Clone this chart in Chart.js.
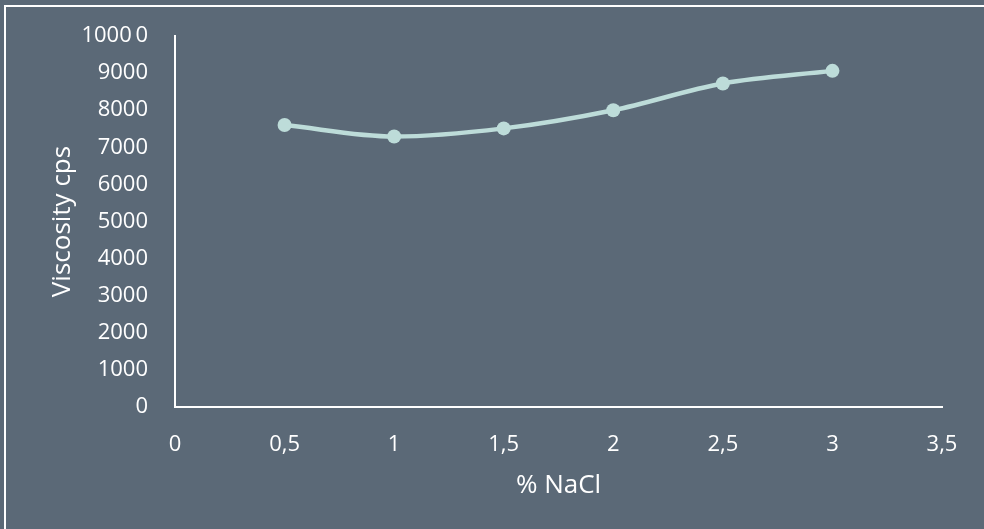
<!DOCTYPE html>
<html>
<head>
<meta charset="utf-8">
<script src="https://cdn.jsdelivr.net/npm/chart.js@4.4.1/dist/chart.umd.min.js"></script>
<style>
  html, body { margin: 0; padding: 0; background: #5b6977; }
  #wrap { position: relative; width: 984px; height: 529px; }
  canvas { display: block; }
</style>
</head>
<body>
<div id="wrap"><canvas id="c" width="984" height="529"></canvas></div>
<script>
const nacl = [0.5, 1, 1.5, 2, 2.5, 3];
const viscosity = [7600, 7290, 7510, 8000, 8720, 9060];
const xTicks = [0, 0.5, 1, 1.5, 2, 2.5, 3, 3.5];
const yTicks = [0, 1000, 2000, 3000, 4000, 5000, 6000, 7000, 8000, 9000, 10000];
const yTickLabels = ['0', '1000', '2000', '3000', '4000', '5000', '6000', '7000', '8000', '9000', '1000\u20090'];
const xTitle = '% NaCl';
const yTitle = 'Viscosity cps';

const BG = '#5b6977';
const LINE = '#bddcd9';
const TXT = '#ffffff';
const FONT = "'Open Sans', sans-serif";

const framePlugin = {
  id: 'frame',
  beforeDraw(chart) {
    const ctx = chart.ctx;
    ctx.save();
    ctx.fillStyle = BG;
    ctx.fillRect(0, 0, chart.width, chart.height);
    ctx.strokeStyle = '#ffffff';
    ctx.lineWidth = 2;
    ctx.strokeRect(5, 6, chart.width + 20, chart.height + 20);
    ctx.restore();
  }
};

new Chart(document.getElementById('c'), {
  type: 'line',
  data: {
    datasets: [{
      data: nacl.map((x, i) => ({ x: x, y: viscosity[i] })),
      borderColor: LINE,
      backgroundColor: LINE,
      borderWidth: 4.5,
      pointRadius: 7,
      pointHoverRadius: 7,
      pointBorderWidth: 0,
      pointBackgroundColor: LINE,
      tension: 0.4,
      cubicInterpolationMode: 'monotone',
      fill: false
    }]
  },
  options: {
    responsive: false,
    animation: false,
    layout: { padding: { left: 0, right: 42, top: 36, bottom: 0 } },
    plugins: { legend: { display: false }, tooltip: { enabled: false } },
    scales: {
      x: {
        type: 'linear',
        min: xTicks[0],
        max: xTicks[xTicks.length - 1],
        afterBuildTicks(scale) { scale.ticks = xTicks.map(v => ({ value: v })); },
        afterFit(scale) { scale.height = 122; scale.paddingLeft = 0; scale.paddingRight = 0; },
        grid: { display: false, drawTicks: false, tickLength: 0 },
        border: { display: true, color: '#ffffff', width: 2 },
        ticks: {
          color: TXT,
          font: { family: FONT, size: 22 },
          padding: 25,
          maxRotation: 0,
          autoSkip: false,
          callback: v => String(v).replace('.', ',')
        },
        title: {
          display: true,
          text: xTitle,
          color: TXT,
          font: { family: FONT, size: 26 },
          padding: { top: 4, bottom: 28 }
        }
      },
      y: {
        type: 'linear',
        min: yTicks[0],
        max: yTicks[yTicks.length - 1],
        afterBuildTicks(scale) { scale.ticks = yTicks.map(v => ({ value: v })); },
        afterFit(scale) { scale.width = 175; scale.paddingTop = 0; scale.paddingBottom = 0; },
        grid: { display: false, drawTicks: false, tickLength: 0 },
        border: { display: true, color: '#ffffff', width: 2 },
        ticks: {
          color: TXT,
          font: { family: FONT, size: 22 },
          padding: 27,
          autoSkip: false,
          callback: (v) => { const i = yTicks.indexOf(v); return i >= 0 ? yTickLabels[i] : String(v); }
        },
        title: {
          display: true,
          text: yTitle,
          color: TXT,
          font: { family: FONT, size: 26 },
          padding: { top: 47, bottom: 0 }
        }
      }
    }
  },
  plugins: [framePlugin]
});
</script>
</body>
</html>
